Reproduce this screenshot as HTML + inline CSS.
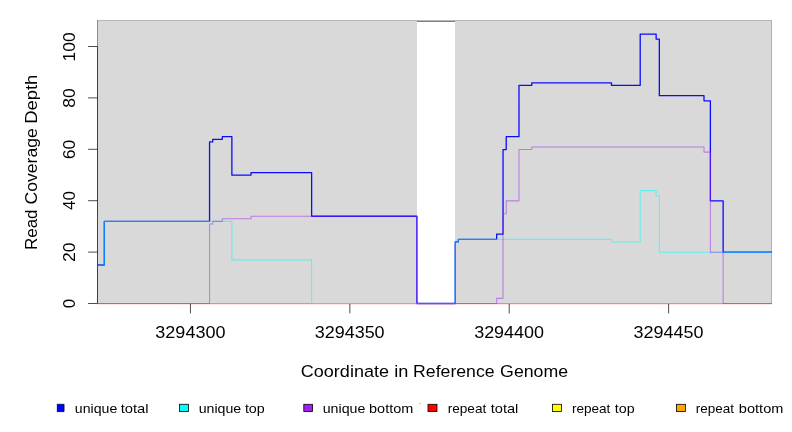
<!DOCTYPE html>
<html><head><meta charset="utf-8"><title>Read Coverage Depth</title>
<style>html,body{margin:0;padding:0;background:#fff;overflow:hidden}body{width:792px;height:432px;font-family:"Liberation Sans",sans-serif}</style></head>
<body>
<svg width="792" height="432" viewBox="0 0 792 432" style="display:block;font-family:'Liberation Sans',sans-serif">
<rect x="0" y="0" width="792" height="432" fill="#fff"/>
<g shape-rendering="crispEdges">
<rect x="97" y="20" width="675" height="284" fill="#d9d9d9"/>
<rect x="97" y="20" width="675" height="1" fill="#b6b6b6"/>
<rect x="771" y="20" width="1" height="284" fill="#b0b0b0"/>
<rect x="97" y="20" width="1" height="27" fill="#8c8c8c"/>
<rect x="417" y="21" width="38" height="283" fill="#fff"/>
<rect x="417" y="21" width="38" height="1" fill="#808080"/>
</g>
<rect x="97" y="303" width="675" height="1" fill="rgb(255,153,18)" shape-rendering="crispEdges"/>
<rect x="97" y="304" width="675" height="1" fill="rgb(255,228,228)" shape-rendering="crispEdges"/>
<g stroke="#000" stroke-width="0.7" fill="none">
<path d="M97.5 46.50 L97.5 303.50"/>
<path d="M88.1 303.50 L97.5 303.50"/>
<path d="M88.1 252.10 L97.5 252.10"/>
<path d="M88.1 200.70 L97.5 200.70"/>
<path d="M88.1 149.30 L97.5 149.30"/>
<path d="M88.1 97.90 L97.5 97.90"/>
<path d="M88.1 46.50 L97.5 46.50"/>
<path d="M190.45 303.9 L190.45 313.4"/>
<path d="M349.83 303.9 L349.83 313.4"/>
<path d="M509.22 303.9 L509.22 313.4"/>
<path d="M668.61 303.9 L668.61 313.4"/>
</g>
<path d="M97.50 265.01 L104.28 265.01 L104.28 221.39 L209.55 221.39 L209.55 141.84 L212.74 141.84 L212.74 139.28 L222.31 139.28 L222.31 136.71 L231.88 136.71 L231.88 175.20 L251.02 175.20 L251.02 172.63 L311.63 172.63 L311.63 216.26 L416.90 216.26 L416.90 303.50 L455.18 303.50 L455.18 241.92 L458.37 241.92 L458.37 239.35 L496.65 239.35 L496.65 234.22 L503.03 234.22 L503.03 149.54 L506.22 149.54 L506.22 136.71 L518.98 136.71 L518.98 85.39 L531.74 85.39 L531.74 82.82 L611.49 82.82 L611.49 85.39 L640.20 85.39 L640.20 34.07 L656.15 34.07 L656.15 39.20 L659.34 39.20 L659.34 95.65 L704.00 95.65 L704.00 100.79 L710.38 100.79 L710.38 200.86 L723.14 200.86 L723.14 252.18 L772.00 252.18" stroke="#0000ff" stroke-opacity="0.95" stroke-width="1.3" fill="none" stroke-linejoin="round"/>
<path d="M97.50 265.01 L104.28 265.01 L104.28 221.39 L231.88 221.39 L231.88 259.88 L311.63 259.88 L311.63 303.50 L455.18 303.50 L455.18 241.92 L458.37 241.92 L458.37 239.35 L611.49 239.35 L611.49 241.92 L640.20 241.92 L640.20 190.60 L656.15 190.60 L656.15 195.73 L659.34 195.73 L659.34 252.18 L772.00 252.18" stroke="#00ffff" stroke-opacity="0.54" stroke-width="1.05" fill="none" stroke-linejoin="round"/>
<path d="M97.50 303.50 L209.55 303.50 L209.55 223.95 L212.74 223.95 L212.74 221.39 L222.31 221.39 L222.31 218.82 L251.02 218.82 L251.02 216.26 L416.90 216.26 L416.90 303.50 L496.65 303.50 L496.65 298.37 L503.03 298.37 L503.03 213.69 L506.22 213.69 L506.22 200.86 L518.98 200.86 L518.98 149.54 L531.74 149.54 L531.74 146.97 L704.00 146.97 L704.00 152.11 L710.38 152.11 L710.38 252.18 L723.14 252.18 L723.14 303.50 L772.00 303.50" stroke="#a020f0" stroke-opacity="0.5" stroke-width="1.05" fill="none" stroke-linejoin="round"/>
<g fill="#000" style="opacity:0.999">
<text font-size="17.10" x="155.35" y="337.90" textLength="70.10" lengthAdjust="spacingAndGlyphs">3294300</text>
<text font-size="17.10" x="314.76" y="337.90" textLength="69.85" lengthAdjust="spacingAndGlyphs">3294350</text>
<text font-size="17.10" x="474.17" y="337.90" textLength="69.85" lengthAdjust="spacingAndGlyphs">3294400</text>
<text font-size="17.10" x="633.58" y="337.90" textLength="69.85" lengthAdjust="spacingAndGlyphs">3294450</text>
<text font-size="17.10" transform="translate(75.20 308.14) rotate(-90)" textLength="9.28" lengthAdjust="spacingAndGlyphs">0</text>
<text font-size="17.10" transform="translate(75.20 261.99) rotate(-90)" textLength="19.54" lengthAdjust="spacingAndGlyphs">20</text>
<text font-size="17.10" transform="translate(75.20 210.09) rotate(-90)" textLength="19.02" lengthAdjust="spacingAndGlyphs">40</text>
<text font-size="17.10" transform="translate(75.20 159.20) rotate(-90)" textLength="19.54" lengthAdjust="spacingAndGlyphs">60</text>
<text font-size="17.10" transform="translate(75.20 107.79) rotate(-90)" textLength="19.53" lengthAdjust="spacingAndGlyphs">80</text>
<text font-size="17.10" transform="translate(75.20 61.46) rotate(-90)" textLength="29.17" lengthAdjust="spacingAndGlyphs">100</text>
<text font-size="17.10" x="300.80" y="377.00" textLength="88.20" lengthAdjust="spacingAndGlyphs">Coordinate</text>
<text font-size="17.10" x="394.15" y="377.00" textLength="14.15" lengthAdjust="spacingAndGlyphs">in</text>
<text font-size="17.10" x="413.09" y="377.00" textLength="81.52" lengthAdjust="spacingAndGlyphs">Reference</text>
<text font-size="17.10" x="500.10" y="377.00" textLength="68.00" lengthAdjust="spacingAndGlyphs">Genome</text>
<text font-size="17.10" transform="translate(36.60 250.03) rotate(-90)" textLength="40.60" lengthAdjust="spacingAndGlyphs">Read</text>
<text font-size="17.10" transform="translate(36.60 204.40) rotate(-90)" textLength="76.10" lengthAdjust="spacingAndGlyphs">Coverage</text>
<text font-size="17.10" transform="translate(36.60 123.78) rotate(-90)" textLength="49.16" lengthAdjust="spacingAndGlyphs">Depth</text>
<text font-size="13.10" x="74.80" y="413.20" textLength="42.45" lengthAdjust="spacingAndGlyphs">unique</text>
<text font-size="13.10" x="120.70" y="413.20" textLength="27.94" lengthAdjust="spacingAndGlyphs">total</text>
<text font-size="13.10" x="198.70" y="413.20" textLength="42.54" lengthAdjust="spacingAndGlyphs">unique</text>
<text font-size="13.10" x="244.90" y="413.20" textLength="19.84" lengthAdjust="spacingAndGlyphs">top</text>
<text font-size="13.10" x="322.70" y="413.20" textLength="42.64" lengthAdjust="spacingAndGlyphs">unique</text>
<text font-size="13.10" x="369.09" y="413.20" textLength="44.16" lengthAdjust="spacingAndGlyphs">bottom</text>
<text font-size="13.10" x="447.72" y="413.20" textLength="38.54" lengthAdjust="spacingAndGlyphs">repeat</text>
<text font-size="13.10" x="490.70" y="413.20" textLength="27.64" lengthAdjust="spacingAndGlyphs">total</text>
<text font-size="13.10" x="571.92" y="413.20" textLength="38.43" lengthAdjust="spacingAndGlyphs">repeat</text>
<text font-size="13.10" x="614.80" y="413.20" textLength="19.82" lengthAdjust="spacingAndGlyphs">top</text>
<text font-size="13.10" x="695.76" y="413.20" textLength="38.19" lengthAdjust="spacingAndGlyphs">repeat</text>
<text font-size="13.10" x="738.89" y="413.20" textLength="44.46" lengthAdjust="spacingAndGlyphs">bottom</text>
</g>
<path d="M56.9 404.3 H64.05 V411.6 H56.9" fill="#0000ff" stroke="#000030" stroke-width="0.8"/>
<rect x="56" y="404" width="1" height="8" fill="#d8d8ff" shape-rendering="crispEdges"/>
<rect x="179.40" y="404.3" width="9.10" height="7.3" fill="#00ffff" stroke="#000" stroke-width="0.8"/>
<rect x="303.80" y="404.3" width="8.80" height="7.3" fill="#a020f0" stroke="#000" stroke-width="0.8"/>
<rect x="428.00" y="404.3" width="9.00" height="7.3" fill="#ff0000" stroke="#000" stroke-width="0.8"/>
<rect x="552.40" y="404.3" width="9.00" height="7.3" fill="#ffff00" stroke="#000" stroke-width="0.8"/>
<rect x="676.50" y="404.3" width="9.00" height="7.3" fill="#ffa500" stroke="#000" stroke-width="0.8"/>
<rect x="419" y="403" width="2" height="1" fill="#cfcfcf" shape-rendering="crispEdges"/>
</svg>
</body></html>
